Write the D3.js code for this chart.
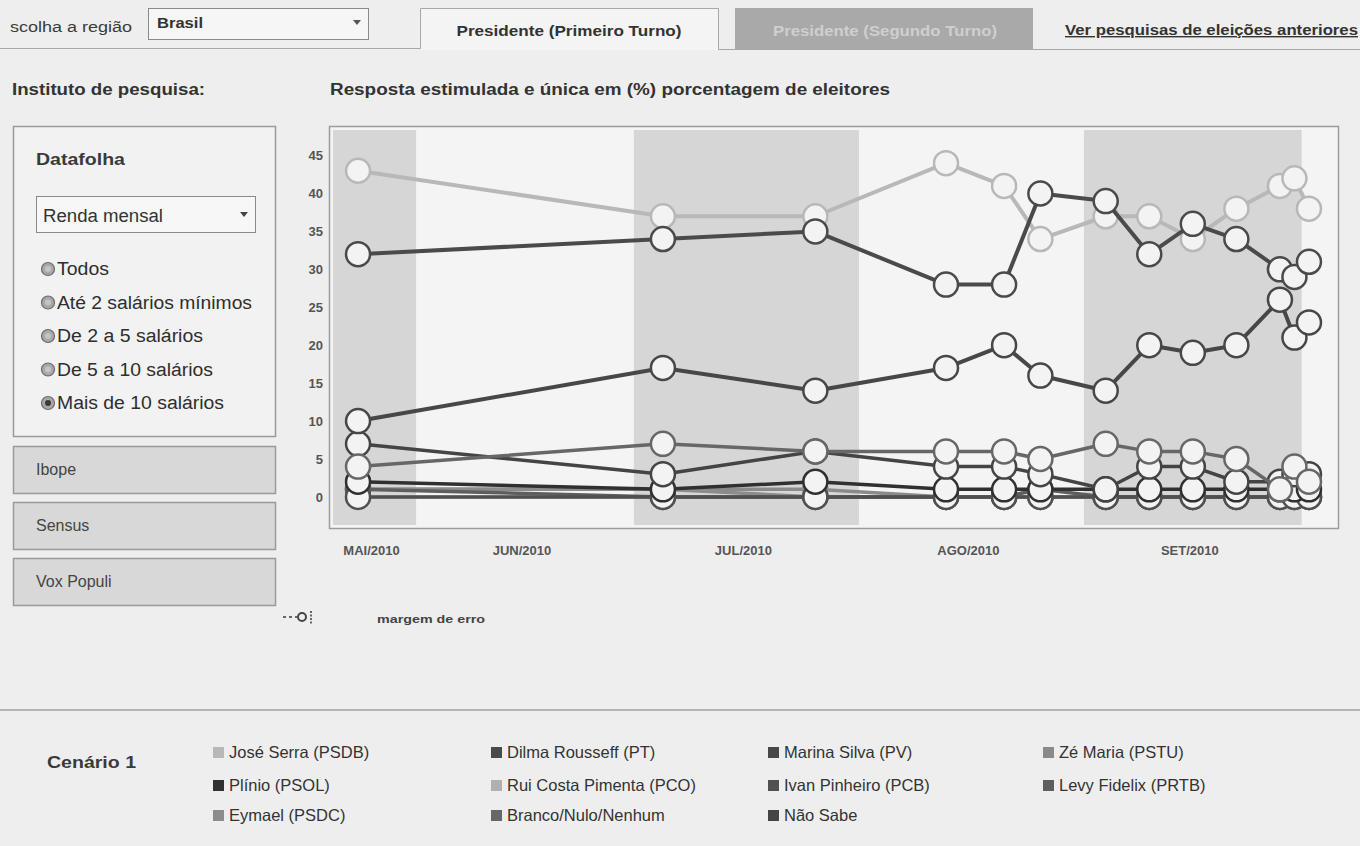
<!DOCTYPE html>
<html>
<head>
<meta charset="utf-8">
<script src="https://cdn.jsdelivr.net/npm/d3@7"></script>
<style>
  body { margin: 0; background: #eeeeee; }
  svg { display: block; }
</style>
</head>
<body>
<svg id="chart" width="1360" height="846"></svg>
<script>
// ---- Poll data (Datafolha, renda mensal: mais de 10 salários) ----
const pollDates = ["2010-05-24", "2010-07-05", "2010-07-26", "2010-08-13", "2010-08-21",
                   "2010-08-26", "2010-09-04", "2010-09-10", "2010-09-16", "2010-09-22",
                   "2010-09-28", "2010-09-30", "2010-10-02"];

const serra     = [43, 37, 37, 44, 41, 34, 37, 37, 34, 38, 41, 42, 38];
const dilma     = [32, 34, 35, 28, 28, 40, 39, 32, 36, 34, 30, 29, 31];
const marina    = [10, 17, 14, 17, 20, 16, 14, 20, 19, 20, 26, 21, 23];
const branco    = [ 4,  7,  6,  6,  6,  5,  7,  6,  6,  5,  1,  4,  2];
const naoSabe   = [ 7,  3,  6,  4,  4,  3,  1,  4,  4,  2,  2,  3,  3];
const plinio    = [ 2,  1,  2,  1,  1,  1,  1,  1,  1,  1,  1,  1,  1];
const zeMaria   = [ 1,  1,  1,  0,  0,  0,  0,  0,  0,  0,  0,  0,  0];
const ruiCosta  = [ 0,  0,  0,  0,  0,  0,  0,  0,  0,  0,  0,  0,  0];
const ivan      = [ 0,  0,  0,  0,  0,  0,  0,  0,  0,  0,  0,  0,  0];
const levy      = [ 1,  0,  0,  0,  0,  1,  0,  0,  0,  0,  0,  0,  0];
const eymael    = [ 1,  1,  0,  0,  0,  0,  0,  0,  0,  0,  0,  0,  0];

const candidateNames = ["José Serra (PSDB)", "Dilma Rousseff (PT)", "Marina Silva (PV)", "Zé Maria (PSTU)",
                        "Plínio (PSOL)", "Rui Costa Pimenta (PCO)", "Ivan Pinheiro (PCB)", "Levy Fidelix (PRTB)",
                        "Eymael (PSDC)", "Branco/Nulo/Nenhum", "Não Sabe"];

const yTicks = [0, 5, 10, 15, 20, 25, 30, 35, 40, 45];
const monthStarts = ["2010-05-01", "2010-06-01", "2010-07-01", "2010-08-01", "2010-09-01", "2010-10-01"];
const monthLabels = ["MAI/2010", "JUN/2010", "JUL/2010", "AGO/2010", "SET/2010", ""];

const incomeOptions = ["Todos", "Até 2 salários mínimos", "De 2 a 5 salários", "De 5 a 10 salários", "Mais de 10 salários"];
const selectedIncome = "Mais de 10 salários";
const otherInstitutes = ["Ibope", "Sensus", "Vox Populi"];

// ---- Styling per candidate ----
const seriesValues = [serra, dilma, marina, zeMaria, plinio, ruiCosta, ivan, levy, eymael, branco, naoSabe];
const seriesColor = ["#b8b8b8", "#4a4a4a", "#474747", "#8a8a8a", "#303030", "#b0b0b0",
                     "#505050", "#5e5e5e", "#8c8c8c", "#676767", "#444444"];
// Order in which lines are painted (later = on top)
const drawOrder = [0, 5, 3, 8, 7, 6, 4, 10, 9, 2, 1];

// Rendered widths of the narrow-set radio labels
const radioWidths = [52, 195, 146, 156, 167];

const parse = d3.timeParse("%Y-%m-%d");
const dates = pollDates.map(parse);

const svg = d3.select("#chart");
const FONT = "'Liberation Sans', Arial, sans-serif";

function label(g, x, y, str, o = {}) {
  const t = g.append("text")
    .attr("x", x).attr("y", y)
    .attr("font-family", FONT)
    .attr("font-size", o.size || 14)
    .attr("font-weight", o.weight || "normal")
    .attr("fill", o.fill || "#333")
    .attr("text-anchor", o.anchor || "start")
    .text(str);
  if (o.width) t.attr("textLength", o.width).attr("lengthAdjust", "spacingAndGlyphs");
  if (o.underline) t.attr("text-decoration", "underline");
  return t;
}

// ---- Header: region selector and tabs ----
const head = svg.append("g");
label(head, 10, 32, "scolha a região", {size: 14, fill: "#3a3a3a", width: 122});
head.append("rect").attr("x", 148.5).attr("y", 8.5).attr("width", 220).attr("height", 31)
  .attr("fill", "#f6f6f6").attr("stroke", "#8a8a8a");
label(head, 157, 28, "Brasil", {size: 15, weight: "bold", fill: "#333", width: 46});
head.append("path").attr("d", "M353,20 L361,20 L357,25 Z").attr("fill", "#555");

head.append("path").attr("d", "M0,48.5 H420.5 V8.5 H718.5 V49.5 H1360")
  .attr("fill", "none").attr("stroke", "#a8a8a8");
head.append("rect").attr("x", 421).attr("y", 9).attr("width", 297).attr("height", 41).attr("fill", "#f4f4f4");
label(head, 569, 36, "Presidente (Primeiro Turno)", {size: 14, weight: "bold", anchor: "middle", fill: "#333", width: 225});
head.append("rect").attr("x", 735).attr("y", 8).attr("width", 298).attr("height", 41).attr("fill", "#a9a9a9");
label(head, 885, 36, "Presidente (Segundo Turno)", {size: 14, weight: "bold", anchor: "middle", fill: "#cfcfcf", width: 224});
label(head, 1065, 35, "Ver pesquisas de eleições anteriores", {size: 14, weight: "bold", fill: "#333", width: 293, underline: true});

label(head, 12, 95, "Instituto de pesquisa:", {size: 16, weight: "bold", fill: "#333", width: 193});
label(head, 330, 95, "Resposta estimulada e única em (%) porcentagem de eleitores", {size: 16, weight: "bold", fill: "#333", width: 560});

// ---- Left panel ----
const panel = svg.append("g");
panel.append("rect").attr("x", 13.5).attr("y", 126.5).attr("width", 262).attr("height", 310)
  .attr("fill", "#f2f2f2").attr("stroke", "#9a9a9a").attr("stroke-width", 1.5);
label(panel, 36, 165, "Datafolha", {size: 17, weight: "bold", fill: "#3a3a3a", width: 89});
panel.append("rect").attr("x", 36.5).attr("y", 196.5).attr("width", 219).attr("height", 36)
  .attr("fill", "#f7f7f7").attr("stroke", "#8a8a8a");
label(panel, 43, 222, "Renda mensal", {size: 18, fill: "#333", width: 120});
panel.append("path").attr("d", "M240,212 L248,212 L244,217 Z").attr("fill", "#444");

const radioY = d3.scalePoint().domain(incomeOptions).range([269, 403]);
incomeOptions.forEach((opt, i) => {
  const cy = radioY(opt);
  panel.append("circle").attr("cx", 48).attr("cy", cy).attr("r", 6.5)
    .attr("fill", "#a8a8a8").attr("stroke", "#6a6a6a").attr("stroke-width", 1.2);
  panel.append("circle").attr("cx", 48).attr("cy", cy).attr("r", 3)
    .attr("fill", opt === selectedIncome ? "#3a3a3a" : "#c4c4c4");
  label(panel, 57, cy + 6, opt, {size: 18, fill: "#2e2e2e", width: radioWidths[i]});
});

otherInstitutes.forEach((name, i) => {
  const top = [446, 502, 558][i];
  panel.append("rect").attr("x", 13.5).attr("y", top + 0.5).attr("width", 262).attr("height", 47)
    .attr("fill", "#d8d8d8").attr("stroke", "#9a9a9a").attr("stroke-width", 1.5);
  label(panel, 36, top + 29, name, {size: 16, fill: "#444"});
});

// ---- Plot ----
const plotL = 329, plotR = 1338, plotT = 126, plotB = 528;
const x = d3.scaleTime().domain([parse("2010-05-20"), parse("2010-10-06")]).range([plotL, plotR]);
const y = d3.scaleLinear().domain([-4.1, 48.9]).range([plotB, plotT]);

const plot = svg.append("g");
plot.append("rect").attr("x", plotL + 0.5).attr("y", plotT + 0.5)
  .attr("width", plotR - plotL).attr("height", plotB - plotT)
  .attr("fill", "#f4f4f4").attr("stroke", "#9c9c9c").attr("stroke-width", 1.5);

// Alternate month shading and month labels centred in the visible span
const [d0, d1] = x.domain();
const months = monthStarts.map(parse);
months.forEach((m, i) => {
  const a = m < d0 ? d0 : m;
  const next = i + 1 < months.length ? months[i + 1] : d1;
  const b = next > d1 ? d1 : next;
  if (b <= a) return;
  const xa = Math.max(x(a), plotL + 4), xb = Math.min(x(b), plotR - 3);
  if (i % 2 === 0) {
    plot.append("rect").attr("x", xa).attr("y", plotT + 4).attr("width", xb - xa)
      .attr("height", plotB - plotT - 7).attr("fill", "#d6d6d6");
  }
  if (monthLabels[i]) {
    label(plot, (xa + xb) / 2 - 3, 555, monthLabels[i], {size: 13, weight: "bold", fill: "#555", anchor: "middle"});
  }
});

const yAxis = d3.axisLeft(y).tickValues(yTicks).tickSize(0).tickPadding(6);
const ya = plot.append("g").attr("transform", `translate(${plotL},0)`).call(yAxis);
ya.select(".domain").remove();
ya.selectAll("text").attr("font-family", FONT).attr("font-size", 13)
  .attr("font-weight", "bold").attr("fill", "#555");

const line = d3.line().x((d, i) => x(dates[i])).y(d => y(d));
const marks = plot.append("g");
drawOrder.forEach(si => {
  const vals = seriesValues[si];
  const col = seriesColor[si];
  const g = marks.append("g");
  g.append("path").datum(vals).attr("d", line)
    .attr("fill", "none").attr("stroke", col)
    .attr("stroke-width", si <= 2 ? 4 : 3.5).attr("stroke-linejoin", "round");
  g.selectAll("circle").data(vals).join("circle")
    .attr("cx", (d, i) => x(dates[i])).attr("cy", d => y(d)).attr("r", 12)
    .attr("fill", "#f3f3f3").attr("stroke", col).attr("stroke-width", 2.5);
});

// Error margin key
const key = svg.append("g");
key.append("line").attr("x1", 283).attr("x2", 297).attr("y1", 617).attr("y2", 617)
  .attr("stroke", "#666").attr("stroke-width", 2).attr("stroke-dasharray", "3,3");
key.append("circle").attr("cx", 302).attr("cy", 617).attr("r", 4)
  .attr("fill", "none").attr("stroke", "#444").attr("stroke-width", 2);
key.append("line").attr("x1", 311).attr("x2", 311).attr("y1", 611).attr("y2", 624)
  .attr("stroke", "#555").attr("stroke-width", 1.8).attr("stroke-dasharray", "2,1.5");
label(key, 377, 623, "margem de erro", {size: 11, weight: "bold", fill: "#444", width: 108});

// ---- Bottom legend ----
svg.append("line").attr("x1", 0).attr("x2", 1360).attr("y1", 710).attr("y2", 710)
  .attr("stroke", "#a0a0a0").attr("stroke-width", 1.5);
const leg = svg.append("g");
label(leg, 47, 768, "Cenário 1", {size: 17, weight: "bold", fill: "#3a3a3a", width: 89});
const colX = [213, 491, 768, 1043];
const rowY = [752, 785, 815];
candidateNames.forEach((name, i) => {
  const cx = colX[i % 4], cy = rowY[Math.floor(i / 4)];
  leg.append("rect").attr("x", cx).attr("y", cy - 5).attr("width", 11).attr("height", 11)
    .attr("fill", seriesColor[i]);
  label(leg, cx + 16, cy + 6, name, {size: 16.5, fill: "#333"});
});
</script>
</body>
</html>
